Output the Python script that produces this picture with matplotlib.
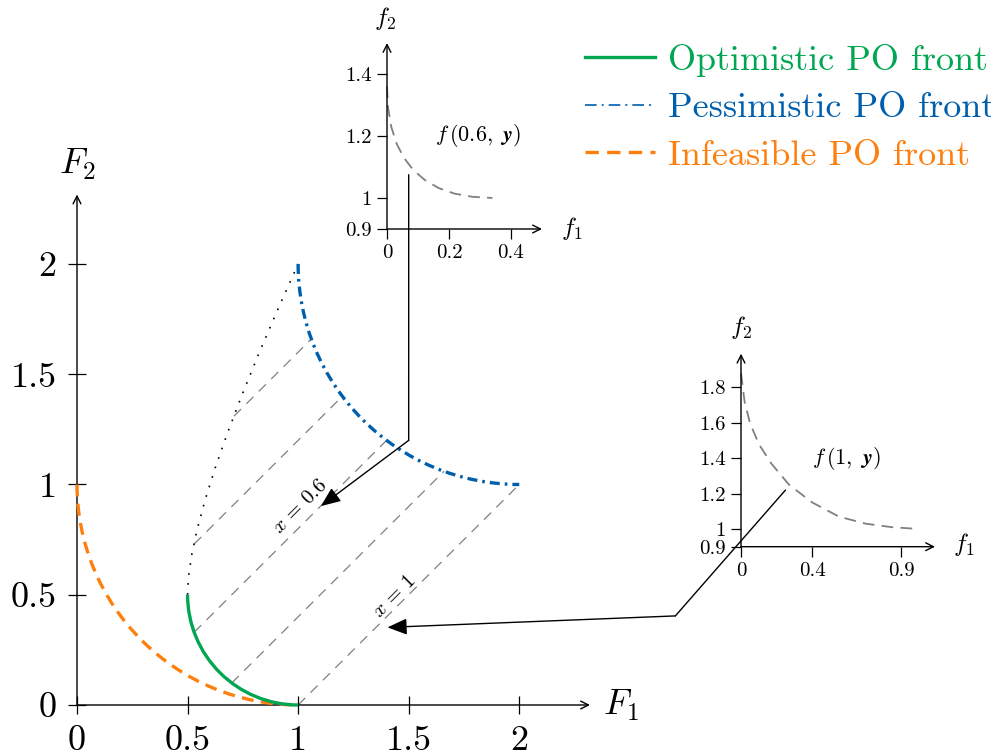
import matplotlib.pyplot as plt
from matplotlib.patches import Arc, ConnectionPatch
from matplotlib.lines import Line2D

# Computer Modern look for text and maths
plt.rcParams['font.family'] = 'serif'
plt.rcParams['font.serif'] = ['cmr10']
plt.rcParams['mathtext.fontset'] = 'cm'
plt.rcParams['axes.unicode_minus'] = False
plt.rcParams['axes.formatter.use_mathtext'] = True

# Colours
greenColor = '#00a651'
blueColor = '#005fad'
orangeColor = '#ff7f0e'
grayColor = '#808080'

# Main axes ticks
mainTicks = [0, 0.5, 1, 1.5, 2]
mainTickLabels = ['0', '0.5', '1', '1.5', '2']

# Fronts drawn as quarter arcs: (centre F1, centre F2, radius)
optimisticArc = (1.0, 0.5, 0.5)
pessimisticArc = (2.0, 2.0, 1.0)
infeasibleArc = (1.0, 1.0, 1.0)

# Dotted upper-left boundary of the image set
boundaryF1 = [0.500, 0.505, 0.520, 0.545, 0.580, 0.625, 0.680, 0.745, 0.820, 0.905, 1.000]
boundaryF2 = [0.500, 0.587, 0.688, 0.803, 0.932, 1.075, 1.232, 1.403, 1.588, 1.787, 2.000]

# Dashed lines, one per fixed x (start / end points)
lineStartF1 = [1.00, 0.70, 0.53, 0.53, 0.71]
lineStartF2 = [0.00, 0.10, 0.33, 0.73, 1.31]
lineEndF1 = [2.00, 1.66, 1.40, 1.20, 1.06]
lineEndF2 = [1.00, 1.06, 1.20, 1.40, 1.66]

# Inset f(0.6, y)
inset1F1 = [0.0, 0.0034, 0.0136, 0.0306, 0.0544, 0.085, 0.122, 0.167, 0.218, 0.275, 0.34]
inset1F2 = [1.36, 1.292, 1.230, 1.176, 1.130, 1.090, 1.058, 1.032, 1.014, 1.004, 1.0]
inset1XTicks = [0, 0.2, 0.4]
inset1XLabels = ['0', '0.2', '0.4']
inset1YTicks = [0.9, 1.0, 1.2, 1.4]
inset1YLabels = ['0.9', '1', '1.2', '1.4']

# Inset f(1, y)
inset2F1 = [0.0, 0.02, 0.05, 0.10, 0.17, 0.27, 0.40, 0.55, 0.70, 0.85, 1.0]
inset2F2 = [1.88, 1.72, 1.60, 1.48, 1.37, 1.25, 1.15, 1.07, 1.03, 1.01, 1.0]
inset2XTicks = [0, 0.4, 0.9]
inset2XLabels = ['0', '0.4', '0.9']
inset2YTicks = [0.9, 1.0, 1.2, 1.4, 1.6, 1.8]
inset2YLabels = ['0.9', '1', '1.2', '1.4', '1.6', '1.8']


def drawArrowAxes(axe, xLabel, yLabel, xLabelPos, yLabelPos, size):
    """Hide the box and draw two arrowed axis lines with their labels."""
    for spine in axe.spines.values():
        spine.set_visible(False)
    axe.patch.set_alpha(0)
    axe.annotate('', xy=(1, 0), xytext=(0, 0), xycoords='axes fraction',
                 arrowprops=dict(arrowstyle='->', lw=1.0, color='black',
                                 shrinkA=0, shrinkB=0, mutation_scale=14))
    axe.annotate('', xy=(0, 1), xytext=(0, 0), xycoords='axes fraction',
                 arrowprops=dict(arrowstyle='->', lw=1.0, color='black',
                                 shrinkA=0, shrinkB=0, mutation_scale=14))
    axe.text(xLabelPos[0], xLabelPos[1], xLabel, fontsize=size,
             ha='center', va='center')
    axe.text(yLabelPos[0], yLabelPos[1], yLabel, fontsize=size,
             ha='center', va='center')


fig = plt.figure(figsize=(9.91, 7.53), dpi=100)

############################################################################
# Main objective space
############################################################################
mainAx = fig.add_axes([77 / 991, 48 / 753, 513 / 991, 510.5 / 753])
mainAx.set_xlim(0, 2.32)
mainAx.set_ylim(0, 2.315)
drawArrowAxes(mainAx, r'$F_1$', r'$F_2$', (2.46, 0.0), (0.0, 2.45), 26)
mainAx.set_xticks(mainTicks)
mainAx.set_xticklabels(mainTickLabels)
mainAx.set_yticks(mainTicks)
mainAx.set_yticklabels(mainTickLabels)
mainAx.tick_params(direction='inout', length=13, width=0.9, labelsize=26)
mainAx.tick_params(axis='x', pad=8)
mainAx.tick_params(axis='y', pad=8)

# Dashed lines for fixed x
for x0, y0, x1, y1 in zip(lineStartF1, lineStartF2, lineEndF1, lineEndF2):
    mainAx.plot([x0, x1], [y0, y1], color=grayColor, lw=0.9,
                linestyle=(0, (8, 6)), zorder=1)

# Dotted boundary
mainAx.plot(boundaryF1, boundaryF2, color='black', lw=1.2,
            linestyle=(0, (1, 5)), zorder=2)

# Fronts
cx, cy, r = infeasibleArc
mainAx.add_patch(Arc((cx, cy), 2 * r, 2 * r, theta1=180, theta2=270,
                     color=orangeColor, lw=2.4, linestyle=(0, (3.6, 2.2)),
                     clip_on=False, zorder=3))
cx, cy, r = optimisticArc
mainAx.add_patch(Arc((cx, cy), 2 * r, 2 * r, theta1=180, theta2=270,
                     color=greenColor, lw=2.4, clip_on=False, zorder=4))
cx, cy, r = pessimisticArc
mainAx.add_patch(Arc((cx, cy), 2 * r, 2 * r, theta1=180, theta2=270,
                     color=blueColor, lw=2.4,
                     linestyle=(0, (3.0, 1.5, 0.8, 1.5)),
                     clip_on=False, zorder=4))

# Labels along the x lines
mainAx.text(1.01, 0.90, r'$x\,=\,0.6$', fontsize=15, rotation=45,
            ha='center', va='center')
mainAx.text(1.435, 0.49, r'$x\,=\,1$', fontsize=15, rotation=45,
            ha='center', va='center')

############################################################################
# Inset f(0.6, y)
############################################################################
inset1 = fig.add_axes([387 / 991, 524 / 753, 155 / 991, 186 / 753])
inset1.set_xlim(0, 0.5)
inset1.set_ylim(0.9, 1.5)
drawArrowAxes(inset1, r'$f_1$', r'$f_2$', (0.595, 0.9), (-0.006, 1.58), 18)
inset1.set_xticks(inset1XTicks)
inset1.set_xticklabels(inset1XLabels)
inset1.set_yticks(inset1YTicks)
inset1.set_yticklabels(inset1YLabels)
inset1.tick_params(direction='out', length=7, width=0.9, labelsize=15, pad=4)
inset1.plot(inset1F1, inset1F2, color=grayColor, lw=1.3,
            linestyle=(0, (6.5, 4)), clip_on=False)
inset1.text(0.294, 1.203, r'$f\,(0.6,\ \boldsymbol{y})$', fontsize=16,
            ha='center', va='center')

############################################################################
# Inset f(1, y)
############################################################################
inset2 = fig.add_axes([741 / 991, 206.3 / 753, 194 / 991, 193 / 753])
inset2.set_xlim(0, 1.09)
inset2.set_ylim(0.9, 1.99)
drawArrowAxes(inset2, r'$f_1$', r'$f_2$', (1.25, 0.91), (0.0, 2.14), 18)
inset2.set_xticks(inset2XTicks)
inset2.set_xticklabels(inset2XLabels)
inset2.set_yticks(inset2YTicks)
inset2.set_yticklabels(inset2YLabels)
inset2.tick_params(direction='out', length=7, width=0.9, labelsize=15, pad=4)
inset2.plot(inset2F1, inset2F2, color=grayColor, lw=1.3,
            linestyle=(0, (6.5, 4)), clip_on=False)
inset2.text(0.59, 1.40, r'$f\,(1,\ \boldsymbol{y})$', fontsize=16,
            ha='center', va='center')

############################################################################
# Pointers from the insets to their x lines
############################################################################
link1 = ConnectionPatch(xyA=(0.07, 1.075), coordsA=inset1.transData,
                        xyB=(1.5, 1.2), coordsB=mainAx.transData,
                        color='black', lw=1.0, zorder=10)
fig.add_artist(link1)
mainAx.annotate('', xy=(1.103, 0.902), xytext=(1.5, 1.2),
                arrowprops=dict(arrowstyle='-|>,head_length=0.6,head_width=0.25',
                                lw=1.0, color='black', shrinkA=0, shrinkB=0,
                                mutation_scale=20),
                annotation_clip=False, zorder=10)

link2 = ConnectionPatch(xyA=(0.25, 1.22), coordsA=inset2.transData,
                        xyB=(2.706, 0.404), coordsB=mainAx.transData,
                        color='black', lw=1.0, zorder=10)
fig.add_artist(link2)
mainAx.annotate('', xy=(1.404, 0.352), xytext=(2.706, 0.404),
                arrowprops=dict(arrowstyle='-|>,head_length=0.6,head_width=0.25',
                                lw=1.0, color='black', shrinkA=0, shrinkB=0,
                                mutation_scale=20),
                annotation_clip=False, zorder=10)

############################################################################
# Legend
############################################################################
legendHandles = [
    Line2D([], [], color=greenColor, lw=2.4),
    Line2D([], [], color=blueColor, lw=1.2, linestyle=(0, (7, 3, 1.2, 3))),
    Line2D([], [], color=orangeColor, lw=2.4, linestyle=(0, (4, 2.5))),
]
legendLabels = ['Optimistic PO front', 'Pessimistic PO front', 'Infeasible PO front']
fig.legend(legendHandles, legendLabels, loc='upper left',
           bbox_to_anchor=(585 / 991, 1 - 44 / 753), frameon=False,
           fontsize=26, handlelength=1.95, handletextpad=0.35,
           labelspacing=0.42, borderpad=0, borderaxespad=0,
           labelcolor=[greenColor, blueColor, orangeColor])

fig.savefig('out.png', dpi=100)
